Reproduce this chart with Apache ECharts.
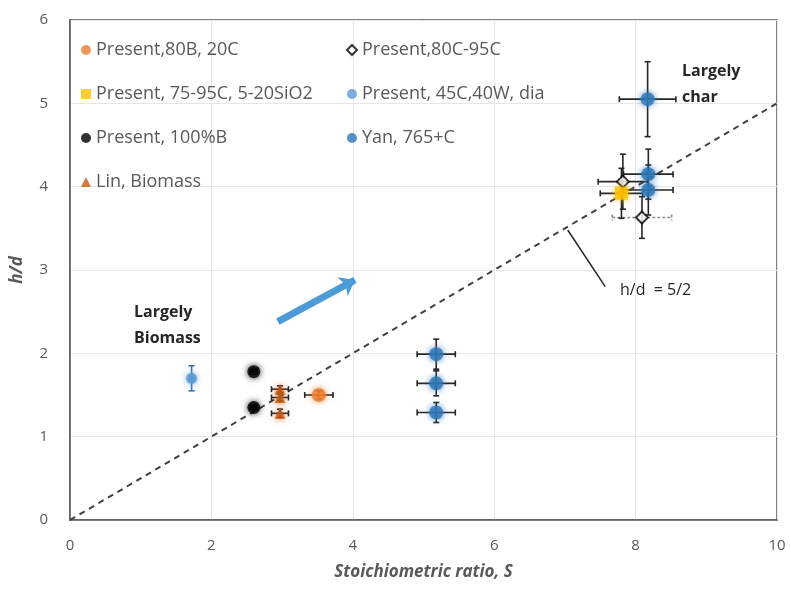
<!DOCTYPE html>
<html>
<head>
<meta charset="utf-8">
<script src="https://cdn.jsdelivr.net/npm/echarts@6/dist/echarts.min.js"></script>
<style>
  html, body { margin: 0; padding: 0; background: #fff; }
  #chart { width: 790px; height: 591px; }
</style>
</head>
<body>
<div id="chart"></div>
<script>
// each point: [S, h/d, S error, h/d error]
var present80B20C = [[3.52, 1.5, 0.2, 0.05]];
var present80C95C = [[7.82, 4.06, 0.35, 0.33], [8.09, 3.63, 0.42, 0.25]];
var present75to95C = [[7.8, 3.92, 0.3, 0.3]];
var present45C40W = [[1.72, 1.7, 0.03, 0.15]];
var present100B = [[2.6, 1.78, 0.05, 0.03], [2.6, 1.35, 0.05, 0.03]];
var yan765C = [[5.18, 1.99, 0.27, 0.18], [5.18, 1.64, 0.27, 0.15], [5.18, 1.29, 0.27, 0.12],
               [8.17, 5.05, 0.4, 0.45], [8.18, 4.15, 0.35, 0.3], [8.18, 3.96, 0.35, 0.3]];
var linBiomass = [[2.97, 1.57, 0.12, 0.04], [2.97, 1.47, 0.12, 0.04], [2.97, 1.28, 0.12, 0.05]];

var xTicks = [0, 2, 4, 6, 8, 10];
var yTicks = [0, 1, 2, 3, 4, 5, 6];
var refLine = [[0, 0], [10, 5]]; // h/d = S/2

var grey = '#595959';
var font = 'Open Sans';

function errorBars(data, color, dashed) {
    return {
        type: 'custom',
        silent: true,
        z: 3,
        data: data,
        renderItem: function (params, api) {
            var x = api.value(0), y = api.value(1), xe = api.value(2), ye = api.value(3);
            var l = api.coord([x - xe, y]), r = api.coord([x + xe, y]);
            var t = api.coord([x, y + ye]), b = api.coord([x, y - ye]);
            var c = 3;
            var vStyle = { stroke: color, lineWidth: 1.6 };
            var hStyle = { stroke: dashed ? '#8c8c8c' : color, lineWidth: 1.6, lineDash: dashed ? [3, 2] : null };
            return {
                type: 'group',
                children: [
                    { type: 'line', shape: { x1: l[0], y1: l[1], x2: r[0], y2: r[1] }, style: hStyle },
                    { type: 'line', shape: { x1: l[0], y1: l[1] - c, x2: l[0], y2: l[1] + c }, style: hStyle },
                    { type: 'line', shape: { x1: r[0], y1: r[1] - c, x2: r[0], y2: r[1] + c }, style: hStyle },
                    { type: 'line', shape: { x1: t[0], y1: t[1], x2: b[0], y2: b[1] }, style: vStyle },
                    { type: 'line', shape: { x1: t[0] - c, y1: t[1], x2: t[0] + c, y2: t[1] }, style: vStyle },
                    { type: 'line', shape: { x1: b[0] - c, y1: b[1], x2: b[0] + c, y2: b[1] }, style: vStyle }
                ]
            };
        }
    };
}

function points(name, data, symbol, size, color, border) {
    return {
        name: name,
        type: 'scatter',
        z: 5,
        data: data.map(function (d) { return [d[0], d[1]]; }),
        symbol: symbol,
        symbolSize: size,
        itemStyle: {
            color: color,
            borderColor: border || color,
            borderWidth: border ? 2 : 0,
            shadowBlur: 6,
            shadowColor: color === '#fff' ? 'rgba(0,0,0,0)' : color
        }
    };
}

var legendText = { color: grey, fontSize: 18, fontFamily: font };

var myChart = echarts.init(document.getElementById('chart'));
var option = {
    animation: false,
    textStyle: { fontFamily: font },
    grid: {
        left: 70, right: 13, top: 20, bottom: 71,
        show: true, borderColor: grey, borderWidth: 1.5
    },
    legend: [{
        left: 76, top: 36, orient: 'vertical', itemGap: 26,
        itemWidth: 10, itemHeight: 10, textStyle: legendText,
        data: ['Present,80B, 20C', 'Present, 75-95C, 5-20SiO2', 'Present, 100%B', 'Lin, Biomass']
    }, {
        left: 341, top: 36, orient: 'vertical', itemGap: 26,
        itemWidth: 10, itemHeight: 10, textStyle: legendText,
        data: ['Present,80C-95C', 'Present, 45C,40W, dia', 'Yan, 765+C']
    }],
    xAxis: {
        type: 'value', min: 0, max: 10, interval: 2,
        name: 'Stoichiometric ratio, S',
        nameLocation: 'middle', nameGap: 44,
        nameTextStyle: { color: grey, fontSize: 17, fontStyle: 'italic', fontWeight: 'bold', fontFamily: font },
        axisLine: { show: true, lineStyle: { color: grey, width: 1.5 } },
        axisTick: { show: false },
        axisLabel: { color: grey, fontSize: 15, margin: 18 },
        splitLine: { show: true, lineStyle: { color: '#e6e6e6' } }
    },
    yAxis: {
        type: 'value', min: 0, max: 6, interval: 1,
        name: 'h/d',
        nameLocation: 'middle', nameGap: 44,
        nameTextStyle: { color: grey, fontSize: 17, fontStyle: 'italic', fontWeight: 'bold', fontFamily: font },
        axisLine: { show: true, lineStyle: { color: grey, width: 1.5 } },
        axisTick: { show: false },
        axisLabel: { color: grey, fontSize: 15, margin: 22 },
        splitLine: { show: true, lineStyle: { color: '#e6e6e6' } }
    },
    graphic: [
        { type: 'text', left: 134, top: 304, style: { text: 'Largely', fill: '#262626', font: 'bold 16px "Open Sans"' } },
        { type: 'text', left: 134, top: 330, style: { text: 'Biomass', fill: '#262626', font: 'bold 16px "Open Sans"' } },
        { type: 'text', left: 682, top: 63, style: { text: 'Largely', fill: '#262626', font: 'bold 16px "Open Sans"' } },
        { type: 'text', left: 682, top: 89, style: { text: 'char', fill: '#262626', font: 'bold 16px "Open Sans"' } },
        { type: 'text', left: 620, top: 282, style: { text: 'h/d  = 5/2', fill: '#262626', font: '16px "Open Sans"' } }
    ],
    series: [
        {
            type: 'line', data: refLine, symbol: 'none', silent: true, z: 2,
            lineStyle: { color: '#404040', width: 2, type: [6, 5] },
            markLine: {
                silent: true, symbol: ['none', 'none'],
                label: { show: false },
                lineStyle: { color: '#262626', width: 1.5, type: 'solid' },
                data: [
                    [{ coord: [7.04, 3.48] }, { coord: [7.57, 2.8] }],
                    [{ coord: [2.94, 2.38], lineStyle: { color: '#4a9bd6', width: 7 }, symbol: 'none' },
                     { coord: [4.03, 2.88], symbol: 'arrow', symbolSize: [16, 14] }]
                ]
            }
        },
        errorBars(present80B20C, '#262626'),
        errorBars(present80C95C.slice(0, 1), '#262626'),
        errorBars(present80C95C.slice(1), '#262626', true),
        errorBars(present75to95C, '#262626'),
        errorBars(present45C40W, '#2e75b6'),
        errorBars(present100B, '#262626'),
        errorBars(yan765C, '#262626'),
        errorBars(linBiomass, '#262626'),
        points('Present,80B, 20C', present80B20C, 'circle', 14, '#ed7d31'),
        points('Present,80C-95C', present80C95C, 'diamond', 12, '#fff', '#000'),
        points('Present, 75-95C, 5-20SiO2', present75to95C, 'rect', 13, '#ffc000'),
        points('Present, 45C,40W, dia', present45C40W, 'circle', 11, '#5b9bd5'),
        points('Present, 100%B', present100B, 'circle', 13, '#000'),
        points('Yan, 765+C', yan765C, 'circle', 14, '#2e75b6'),
        points('Lin, Biomass', linBiomass, 'triangle', 11, '#c55a11')
    ]
};
myChart.setOption(option);
</script>
</body>
</html>
